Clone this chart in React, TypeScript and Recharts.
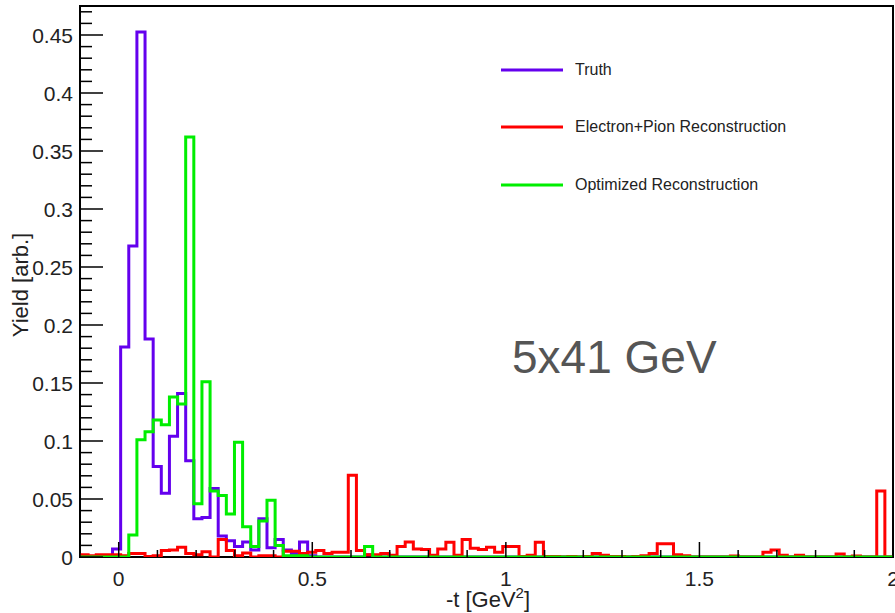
import React from 'react';
import { ComposedChart, Line, XAxis, YAxis, Legend, ReferenceArea, Label } from 'recharts';

// histogram binning: 100 bins on -t from -0.1 to 2.0 GeV^2
const nBins = 100;
const tMin = -0.1;
const tMax = 2.0;
const yMax = 0.475;

const truth = [
  0, 0, 0, 0, 0.007, 0.181, 0.268, 0.4525, 0.188, 0.078,
  0.055, 0.104, 0.141, 0.083, 0.033, 0.034, 0.059, 0.018, 0.014, 0.009,
  0.013, 0.006, 0.033, 0.008, 0.015, 0.006, 0.003, 0.013, 0.001, 0,
  0, 0, 0, 0, 0, 0.002, 0, 0, 0, 0,
  0, 0, 0, 0, 0, 0, 0, 0, 0, 0,
  0, 0, 0, 0, 0, 0, 0, 0, 0, 0,
  0, 0, 0, 0, 0, 0, 0, 0, 0, 0,
  0, 0, 0, 0, 0, 0, 0, 0, 0, 0,
  0, 0, 0, 0, 0, 0, 0, 0, 0, 0,
  0, 0, 0, 0, 0, 0, 0, 0, 0, 0,
];

const electronPion = [
  0.002, 0.001, 0.002, 0.002, 0.002, 0.001, 0.003, 0.003, 0.0005, 0.001,
  0.0055, 0.006, 0.0085, 0.003, 0.002, 0.0045, 0, 0.015, 0.0055, 0.001,
  0.0035, 0, 0.001, 0.001, 0, 0.005, 0.005, 0.003, 0.004, 0.0055,
  0.003, 0.004, 0.004, 0.0705, 0.0055, 0.002, 0.002, 0.003, 0.0015, 0.009,
  0.013, 0.007, 0.0065, 0.0015, 0.007, 0.0128, 0.0015, 0.015, 0.0075, 0.0065,
  0.0085, 0.004, 0.009, 0.009, 0.0005, 0.0015, 0.0128, 0.0005, 0.0005, 0,
  0.0005, 0, 0.0005, 0.003, 0.0015, 0.0005, 0.0005, 0, 0.0005, 0.001,
  0.003, 0.0114, 0.0114, 0.002, 0.001, 0, 0, 0, 0, 0,
  0.0008, 0, 0, 0, 0.004, 0.006, 0.0015, 0, 0.0015, 0,
  0, 0, 0, 0.0025, 0, 0.0008, 0, 0, 0.0568, 0,
];

const optimized = [
  0, 0, 0, 0, 0, 0, 0.019, 0.101, 0.108, 0.118,
  0.114, 0.138, 0.132, 0.362, 0.046, 0.151, 0.057, 0.053, 0.037, 0.099,
  0.026, 0.009, 0.031, 0.049, 0.01, 0.001, 0.001, 0.001, 0, 0,
  0, 0, 0, 0, 0, 0.009, 0, 0, 0, 0,
  0, 0, 0, 0, 0, 0, 0, 0, 0, 0,
  0, 0, 0, 0, 0, 0, 0, 0, 0, 0,
  0, 0, 0, 0, 0, 0, 0, 0, 0, 0,
  0, 0, 0, 0, 0, 0, 0, 0, 0, 0,
  0, 0, 0, 0, 0, 0, 0, 0, 0, 0,
  0, 0, 0, 0, 0, 0, 0, 0, 0, 0,
];

const seriesNames = ['Truth', 'Electron+Pion Reconstruction', 'Optimized Reconstruction'];
const xMajorTicks = [0, 0.5, 1, 1.5, 2];
const yMajorTicks = [0, 0.05, 0.1, 0.15, 0.2, 0.25, 0.3, 0.35, 0.4, 0.45];

const W = 895;
const H = 613;
const MARGIN = { top: 6, right: 2, bottom: 0, left: 0 };
const Y_AXIS_W = 80;
const X_AXIS_H = 56;
const PLOT_LEFT = MARGIN.left + Y_AXIS_W;
const PLOT_BOTTOM = H - MARGIN.bottom - X_AXIS_H;
const FONT = '"Liberation Sans", Arial, Helvetica, sans-serif';

const binWidth = (tMax - tMin) / nBins;
// one row per bin edge, last edge repeats the last bin so the step closes at tMax
const chartData = Array.from({ length: nBins + 1 }, (_, k) => {
  const i = Math.min(k, nBins - 1);
  return { t: tMin + k * binWidth, truth: truth[i], ep: electronPion[i], opt: optimized[i] };
});

// minor ticks (unlabelled) every 0.1 on x and 0.01 on y
const xTicks = Array.from({ length: 22 }, (_, i) => Math.round((tMin + i * 0.1) * 10) / 10);
const yTicks = Array.from({ length: 48 }, (_, i) => i / 100);

const isMajor = (list: number[], v: number) => list.find(m => Math.abs(m - v) < 1e-6);

const XTick = (props: any) => {
  const { x, payload } = props;
  const major = isMajor(xMajorTicks, payload.value);
  return (
    <g>
      <line x1={x} x2={x} y1={PLOT_BOTTOM} y2={PLOT_BOTTOM - (major !== undefined ? 15 : 7)} stroke="#000" strokeWidth={1.5} />
      {major !== undefined && (
        <text x={x} y={PLOT_BOTTOM + 29} textAnchor="middle" fontSize={21} fill="#222" fontFamily={FONT}>
          {String(major)}
        </text>
      )}
    </g>
  );
};

const YTick = (props: any) => {
  const { y, payload } = props;
  const major = isMajor(yMajorTicks, payload.value);
  return (
    <g>
      <line x1={PLOT_LEFT} x2={PLOT_LEFT + (major !== undefined ? 23 : 12)} y1={y} y2={y} stroke="#000" strokeWidth={1.5} />
      {major !== undefined && (
        <text x={PLOT_LEFT - 7} y={y} dy="0.36em" textAnchor="end" fontSize={21} fill="#222" fontFamily={FONT}>
          {String(major)}
        </text>
      )}
    </g>
  );
};

const renderXTitle = () => (
  <text x={488} y={PLOT_BOTTOM + 50} textAnchor="middle" fontSize={22} fill="#222" fontFamily={FONT}>
    -t [GeV<tspan dy={-9} fontSize={15}>2</tspan><tspan dy={9}>]</tspan>
  </text>
);

const renderYTitle = () => (
  <text x={28} y={285} transform="rotate(-90 28 285)" textAnchor="middle" fontSize={22} fill="#222" fontFamily={FONT}>
    Yield [arb.]
  </text>
);

const renderLegend = (props: any) => {
  const { payload = [] } = props;
  // keep the drawing order of the series, not alphabetical
  const items = [...payload].sort((a: any, b: any) => seriesNames.indexOf(a.value) - seriesNames.indexOf(b.value));
  return (
    <div style={{ fontFamily: FONT }}>
      {items.map((entry: any) => (
        <div key={entry.value} style={{ display: 'flex', alignItems: 'center', height: 57.5 }}>
          <svg width={62} height={4} style={{ display: 'block' }}>
            <line x1={0} x2={62} y1={2} y2={2} stroke={entry.color} strokeWidth={3} />
          </svg>
          <span style={{ marginLeft: 12, fontSize: 16, color: '#222' }}>{entry.value}</span>
        </div>
      ))}
    </div>
  );
};

export default function App() {
  return (
    <div style={{ position: 'absolute', left: 0, top: 0, width: W, height: H, background: '#fff', fontFamily: FONT }}>
      <ComposedChart width={W} height={H} data={chartData} margin={MARGIN}>
        <XAxis
          dataKey="t"
          type="number"
          domain={[tMin, tMax]}
          ticks={xTicks}
          interval={0}
          tick={<XTick />}
          tickLine={false}
          axisLine={false}
          height={X_AXIS_H}
          allowDataOverflow
        >
          <Label content={renderXTitle} />
        </XAxis>
        <YAxis
          type="number"
          domain={[0, yMax]}
          ticks={yTicks}
          interval={0}
          tick={<YTick />}
          tickLine={false}
          axisLine={false}
          width={Y_AXIS_W}
          allowDataOverflow
        >
          <Label content={renderYTitle} />
        </YAxis>
        <ReferenceArea x1={tMin} x2={tMax} y1={0} y2={yMax} fill="none" stroke="#000" strokeWidth={2} />
        <Legend
          layout="vertical"
          align="center"
          verticalAlign="middle"
          wrapperStyle={{ left: 501, top: 41, width: 360 }}
          content={renderLegend}
        />
        <Line dataKey="truth" name={seriesNames[0]} type="stepAfter" stroke="#6400ee" strokeWidth={3} strokeLinejoin="miter" dot={false} activeDot={false} isAnimationActive={false} />
        <Line dataKey="ep" name={seriesNames[1]} type="stepAfter" stroke="#ff0000" strokeWidth={3} strokeLinejoin="miter" dot={false} activeDot={false} isAnimationActive={false} />
        <Line dataKey="opt" name={seriesNames[2]} type="stepAfter" stroke="#00ee00" strokeWidth={3} strokeLinejoin="miter" dot={false} activeDot={false} isAnimationActive={false} />
      </ComposedChart>
      <div style={{ position: 'absolute', left: 512, top: 334, fontSize: 46, lineHeight: '46px', color: '#555', whiteSpace: 'nowrap' }}>
        5x41 GeV
      </div>
    </div>
  );
}
